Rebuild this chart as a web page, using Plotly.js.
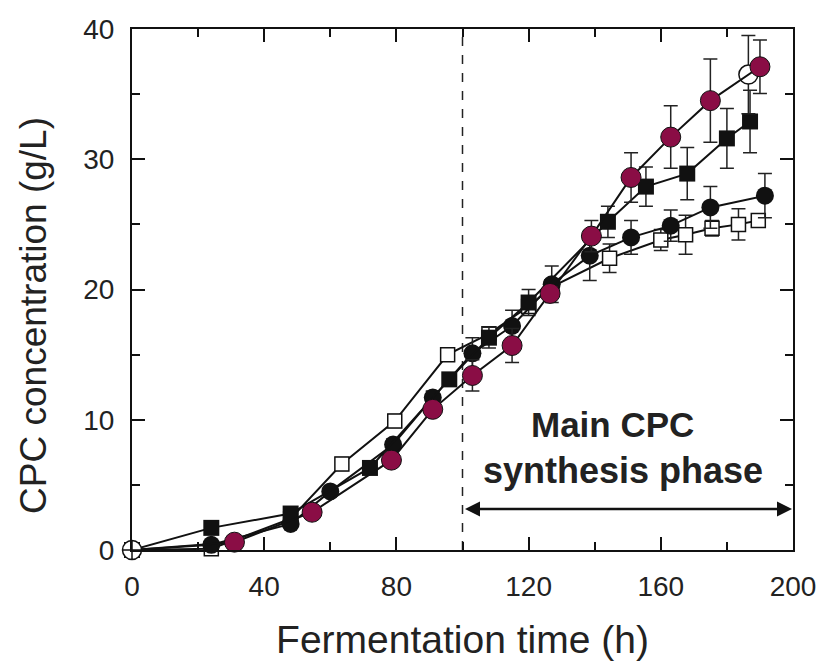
<!DOCTYPE html>
<html><head><meta charset="utf-8">
<script src="https://cdn.plot.ly/plotly-3.0.1.min.js"></script>
<style>html,body{margin:0;padding:0;background:#fff}#chart{width:820px;height:661px}</style>
</head><body><div id="chart"></div>
<script>
// Data
const openSqX = [0, 24, 48, 63.5, 79.5, 95.5, 108, 120, 127, 144.5, 160, 167.5, 175.5, 183.5, 189.5];
const openSqY = [0, 0.1, 2.4, 6.6, 9.9, 15.0, 16.6, 18.7, 20.2, 22.4, 23.8, 24.2, 24.7, 25.0, 25.3];
const openSqErr = [0, 0, 0.3, 0.5, 0.5, 0.5, 0.5, 0.5, 0.5, 1.1, 0.8, 1.5, 0.6, 1.2, 0.5];

const blackSqX = [0, 24, 48, 72, 96, 108, 120, 144, 155.5, 168, 180, 187];
const blackSqY = [0, 1.7, 2.8, 6.3, 13.1, 16.3, 19.0, 25.2, 27.9, 28.9, 31.6, 32.9];
const blackSqErr = [0, 0.3, 0.4, 0.4, 0.5, 0.8, 1.0, 1.2, 1.5, 2.0, 2.3, 2.4];

const blackCircX = [0, 24, 48, 60, 79, 91, 103, 115, 127, 138.5, 151, 163, 175, 191.5];
const blackCircY = [0, 0.4, 2.0, 4.5, 8.1, 11.7, 15.1, 17.2, 20.4, 22.6, 24.0, 24.9, 26.3, 27.2];
const blackCircErr = [0, 0.2, 0.3, 0.3, 0.4, 0.5, 1.2, 1.2, 1.4, 1.9, 1.3, 1.2, 1.6, 1.7];

const crimsonX = [0, 31, 54.5, 78.5, 91, 103, 115, 126.5, 139, 151, 163, 175, 190];
const crimsonY = [0, 0.6, 2.9, 6.9, 10.8, 13.4, 15.7, 19.7, 24.1, 28.6, 31.7, 34.5, 37.1];
const crimsonErr = [0, 0.3, 0.3, 0.4, 0.5, 1.2, 1.3, 0.5, 1.2, 1.9, 2.4, 3.2, 2.05];

const openCircX = [0, 186.5];
const openCircY = [0, 36.5];
const openCircErr = [0, 3.0];

const phaseStart = 100, phaseEnd = 200, arrowY = 3.15;
const labelLines = ["Main CPC", "synthesis phase"];
const xTitle = 'Fermentation time (h)';
const yTitle = 'CPC concentration (g/L)';
const xTicks = [0, 40, 80, 120, 160, 200];
const yTicks = [0, 10, 20, 30, 40];

const CRIMSON = '#8a0d45';
const FONT = 'Liberation Sans, Arial, sans-serif';
const eb = (arr) => ({type: 'data', array: arr, visible: true, color: '#222', thickness: 1.5, width: 7});

const traces = [
  {x: openSqX, y: openSqY, error_y: eb(openSqErr), mode: 'lines+markers', cliponaxis: false,
   line: {color: '#111', width: 2}, marker: {symbol: 'square', size: 14, opacity: 1, color: '#fff', line: {color: '#111', width: 1.5}}},
  {x: blackCircX, y: blackCircY, error_y: eb(blackCircErr), mode: 'lines+markers', cliponaxis: false,
   line: {color: '#111', width: 2}, marker: {symbol: 'circle', size: 18, opacity: 1, color: '#111'}},
  {x: blackSqX, y: blackSqY, error_y: eb(blackSqErr), mode: 'lines+markers', cliponaxis: false,
   line: {color: '#111', width: 2}, marker: {symbol: 'square', size: 16, opacity: 1, color: '#111'}},
  {x: openCircX.slice(1), y: openCircY.slice(1), error_y: eb(openCircErr.slice(1)), mode: 'markers', cliponaxis: false,
   marker: {symbol: 'circle', size: 19, opacity: 1, color: '#fff', line: {color: '#111', width: 1.5}}},
  {x: crimsonX, y: crimsonY, error_y: eb(crimsonErr), mode: 'lines+markers', cliponaxis: false,
   line: {color: '#111', width: 2}, marker: {symbol: 'circle', size: crimsonX.map((v, i) => i === 0 ? 0 : 20), opacity: 1, color: CRIMSON}},
  {x: openCircX.slice(0, 1), y: openCircY.slice(0, 1), mode: 'markers', cliponaxis: false,
   marker: {symbol: 'circle-cross', size: 19, opacity: 1, color: '#fff', line: {color: '#111', width: 1.5}}}
];

const layout = {
  width: 820, height: 661,
  margin: {l: 132, r: 27, t: 29, b: 111},
  paper_bgcolor: '#fff', plot_bgcolor: '#fff',
  showlegend: false,
  font: {family: FONT, color: '#222'},
  xaxis: {
    range: [0, 200], tickvals: xTicks, ticktext: xTicks.map(String),
    ticks: 'inside', ticklen: 13, tickwidth: 2, tickcolor: '#111',
    minor: {dtick: 20, ticks: 'inside', ticklen: 8, tickwidth: 2, tickcolor: '#111', showgrid: false},
    showline: true, linecolor: '#111', linewidth: 2, mirror: 'ticks',
    showgrid: false, zeroline: false, automargin: false,
    ticklabelstandoff: 10,
    tickfont: {size: 28, family: FONT, color: '#222'},
    title: {text: xTitle, font: {size: 39, family: FONT, color: '#222'}, standoff: 28}
  },
  yaxis: {
    range: [0, 40], tickvals: yTicks, ticktext: yTicks.map(String),
    ticks: 'inside', ticklen: 13, tickwidth: 2, tickcolor: '#111',
    minor: {dtick: 5, ticks: 'inside', ticklen: 8, tickwidth: 2, tickcolor: '#111', showgrid: false},
    showline: true, linecolor: '#111', linewidth: 2, mirror: 'ticks',
    showgrid: false, zeroline: false, automargin: false,
    ticklabelstandoff: 10,
    tickfont: {size: 28, family: FONT, color: '#222'}
  },
  shapes: [
    {type: 'line', xref: 'x', yref: 'y', x0: phaseStart, x1: phaseStart, y0: 0, y1: 40,
     line: {color: '#222', width: 1.5, dash: 'dash'}, layer: 'below'}
  ],
  annotations: [
    {xref: 'paper', yref: 'paper', x: -0.15, y: 0.451, xanchor: 'center', yanchor: 'middle',
     text: yTitle, textangle: -90, showarrow: false, font: {size: 37, family: FONT, color: '#222'}},
    {xref: 'x', yref: 'y', x: phaseEnd, y: arrowY, ax: phaseStart, ay: arrowY, axref: 'x', ayref: 'y',
     text: '', showarrow: true, arrowside: 'end+start', arrowhead: 2, arrowsize: 1.2, arrowwidth: 2.5, arrowcolor: '#111',
     standoff: 1, startstandoff: 1},
    {xref: 'x', yref: 'y', x: 145.5, y: 9.6, text: '<b>' + labelLines[0] + '</b>', showarrow: false,
     font: {size: 35, family: FONT, color: '#222'}},
    {xref: 'x', yref: 'y', x: 148.5, y: 6.1, text: '<b>' + labelLines[1] + '</b>', showarrow: false,
     font: {size: 36, family: FONT, color: '#222'}}
  ]
};

Plotly.newPlot('chart', traces, layout, {displayModeBar: false, staticPlot: true});
</script>
</body></html>
